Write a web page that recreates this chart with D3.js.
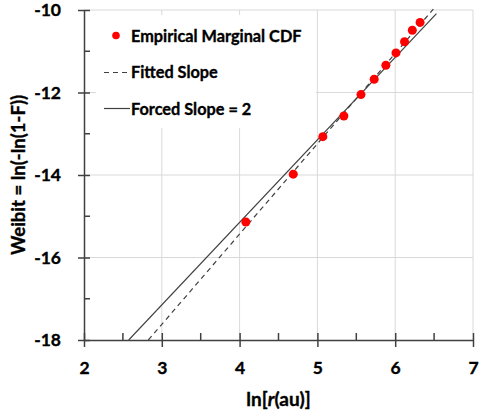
<!DOCTYPE html>
<html><head><meta charset="utf-8">
<script src="https://cdn.jsdelivr.net/npm/d3@7"></script>
<style>body{margin:0;background:#fff}svg{display:block}text{font-family:Lato,"Noto Sans",sans-serif;font-weight:bold;fill:#000;stroke:#000;stroke-width:0.35px}</style>
</head><body><svg id="c" width="479" height="417"></svg>
<script>
const empX = [4.08, 4.69, 5.07, 5.34, 5.56, 5.73, 5.88, 6.01, 6.12, 6.22, 6.32];
const empY = [-15.14, -13.98, -13.07, -12.57, -12.05, -11.68, -11.34, -11.04, -10.77, -10.49, -10.30];
const fittedX = [2.827, 6.49];
const fittedY = [-18, -9.98];
const forcedX = [2.575, 6.53];
const forcedY = [-18, -10.09];
const xTicks = [2, 3, 4, 5, 6, 7];
const yTicks = [-18, -16, -14, -12, -10];
const xMinor = [2.5, 3.5, 4.5, 5.5, 6.5];
const yMinor = [-17, -15, -13, -11];
const legendLabels = ["Empirical Marginal CDF", "Fitted Slope", "Forced Slope = 2"];

const svg = d3.select("#c");
const L = 84, R = 473, T = 10, B = 340;
const x = d3.scaleLinear().domain([2, 7]).range([L, R]);
const y = d3.scaleLinear().domain([-18, -10]).range([B, T]);
const axisCol = "#404040", gridCol = "#d9d9d9";

// gridlines
svg.append("g").selectAll("line").data(xTicks.slice(1)).join("line")
  .attr("x1", d => x(d)).attr("x2", d => x(d)).attr("y1", T).attr("y2", B)
  .attr("stroke", gridCol).attr("stroke-width", 1);
svg.append("g").selectAll("line").data(yTicks.slice(1)).join("line")
  .attr("x1", L).attr("x2", R).attr("y1", d => y(d)).attr("y2", d => y(d))
  .attr("stroke", gridCol).attr("stroke-width", 1);

// legend background
svg.append("rect").attr("x", 96).attr("y", 15).attr("width", 220).attr("height", 113).attr("fill", "#fff");

// clip
svg.append("clipPath").attr("id", "pc").append("rect").attr("x", L).attr("y", T - 2).attr("width", R - L).attr("height", B - T + 2);
const line = d3.line().x(d => x(d[0])).y(d => y(d[1]));
const plot = svg.append("g").attr("clip-path", "url(#pc)");
plot.append("path").datum(d3.zip(forcedX, forcedY)).attr("d", line)
  .attr("fill", "none").attr("stroke", axisCol).attr("stroke-width", 1.2);
plot.append("path").datum(d3.zip(fittedX, fittedY)).attr("d", line)
  .attr("fill", "none").attr("stroke", axisCol).attr("stroke-width", 1.2).attr("stroke-dasharray", "5,4");

const styleTickText = sel => sel.attr("font-size", 17.5).attr("font-family", "Lato").attr("font-weight", "bold")
  .attr("fill", "#000").attr("stroke", "#000").attr("stroke-width", 0.35);

// axes
const xAxis = d3.axisBottom(x).tickValues(xTicks).tickSizeInner(7).tickSizeOuter(0).tickPadding(15).tickFormat(d3.format("d"));
const gx = svg.append("g").attr("transform", `translate(0,${B})`).call(xAxis);
gx.select(".domain").attr("stroke", axisCol).attr("stroke-width", 1.5);
gx.selectAll(".tick line").attr("stroke", axisCol).attr("stroke-width", 1.5).attr("y1", -7);
gx.selectAll(".tick text").call(styleTickText);
svg.append("g").selectAll("line").data(xMinor).join("line")
  .attr("x1", d => x(d)).attr("x2", d => x(d)).attr("y1", B - 7).attr("y2", B)
  .attr("stroke", axisCol).attr("stroke-width", 1.5);

const yAxis = d3.axisLeft(y).tickValues(yTicks).tickSizeInner(6).tickSizeOuter(0).tickPadding(17).tickFormat(d => d3.format("d")(d).replace("−", "-"));
const gy = svg.append("g").attr("transform", `translate(${L},0)`).call(yAxis);
gy.select(".domain").attr("stroke", axisCol).attr("stroke-width", 1.5);
gy.selectAll(".tick line").attr("stroke", axisCol).attr("stroke-width", 1.5).attr("x2", 6).attr("x1", -6);
gy.selectAll(".tick text").call(styleTickText);
svg.append("g").selectAll("line").data(yMinor).join("line")
  .attr("x1", L).attr("x2", L + 6).attr("y1", d => y(d)).attr("y2", d => y(d))
  .attr("stroke", axisCol).attr("stroke-width", 1.5);

// points
svg.append("g").selectAll("circle").data(d3.zip(empX, empY)).join("circle")
  .attr("cx", d => x(d[0])).attr("cy", d => y(d[1])).attr("r", 4.5).attr("fill", "#ff0000");

// legend
const lg = svg.append("g");
lg.append("circle").attr("cx", 116).attr("cy", 35.5).attr("r", 3.8).attr("fill", "#ff0000");
lg.append("line").attr("x1", 104).attr("x2", 130).attr("y1", 72.5).attr("y2", 72.5).attr("stroke", axisCol).attr("stroke-width", 1.2).attr("stroke-dasharray", "5,4");
lg.append("line").attr("x1", 104).attr("x2", 130).attr("y1", 108.5).attr("y2", 108.5).attr("stroke", axisCol).attr("stroke-width", 1.2);
lg.selectAll("text").data(legendLabels).join("text")
  .attr("x", 131).attr("y", (d, i) => 41.5 + i * 36.5).attr("font-size", 16.3).text(d => d);

// axis titles
const xt = svg.append("text").attr("x", (L + R) / 2).attr("y", 406).attr("text-anchor", "middle").attr("font-size", 19);
xt.append("tspan").text("ln[");
xt.append("tspan").attr("font-style", "italic").text("r");
xt.append("tspan").text("(au)]");
svg.append("text").attr("transform", `translate(25,${(T + B) / 2}) rotate(-90)`).attr("text-anchor", "middle")
  .attr("font-size", 18.5).text("Weibit = ln(-ln(1-F))");
</script></body></html>
